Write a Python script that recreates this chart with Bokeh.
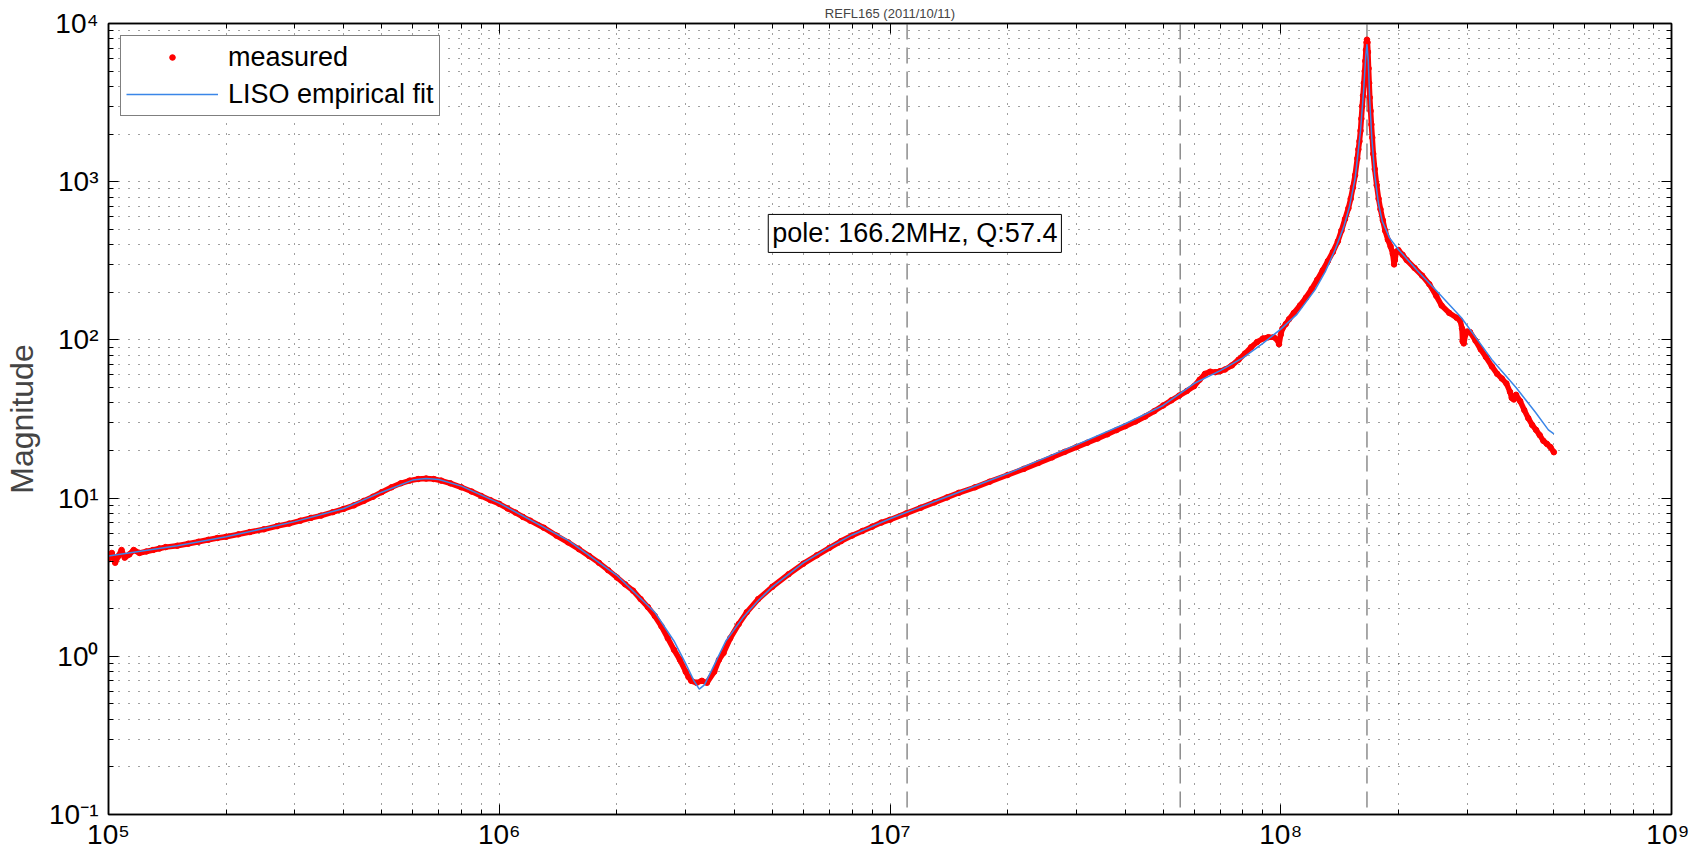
from bokeh.plotting import figure
from bokeh.models import (LogAxis, Span, Label, Legend, LegendItem,
                          CustomJSTickFormatter, FixedTicker)
from bokeh.embed import file_html
from bokeh.resources import INLINE

# ---------------- data ----------------
title_text = "REFL165 (2011/10/11)"

meas_freq_MHz = [
    0.100, 0.102, 0.104, 0.106, 0.108, 0.110, 0.113, 0.116, 0.120, 0.125,
    0.130, 0.135, 0.140, 0.150, 0.160, 0.170, 0.180, 0.190, 0.200, 0.215,
    0.230, 0.250, 0.270, 0.290, 0.310, 0.330, 0.350, 0.375, 0.400, 0.425,
    0.450, 0.475, 0.500, 0.530, 0.560, 0.590, 0.620, 0.650, 0.680, 0.710,
    0.750, 0.800, 0.850, 0.900, 0.950, 1.00, 1.05, 1.10, 1.15, 1.20,
    1.30, 1.40, 1.50, 1.60, 1.70, 1.80, 1.90, 2.00, 2.10, 2.20,
    2.30, 2.40, 2.50, 2.60, 2.70, 2.80, 2.90, 3.00, 3.05, 3.10,
    3.20, 3.30, 3.40, 3.55, 3.65, 3.75, 3.90, 4.10, 4.30, 4.60,
    5.00, 5.50, 6.00, 6.50, 7.00, 7.50, 8.00, 8.50, 9.00, 9.50,
    10.0, 11.0, 12.0, 13.0, 14.0, 15.0, 16.5, 18.0, 20.0, 22.0,
    24.0, 26.0, 28.0, 30.0, 32.0, 34.0, 36.0, 38.0, 40.0, 42.5,
    45.0, 47.5, 50.0, 52.5, 55.0, 57.5, 60.0, 62.0, 64.0, 66.0,
    68.0, 70.0, 72.0, 75.0, 78.0, 81.0, 84.0, 87.0, 90.0, 93.0,
    96.0, 98.0, 99.0, 100.0, 101.0, 103.0, 105.0, 108.0, 112.0, 116.0,
    120.0, 124.0, 128.0, 132.0, 136.0, 140.0, 143.0, 146.0, 149.0, 151.0,
    153.0, 155.0, 157.0, 158.0, 159.0, 160.0, 160.8, 161.6, 162.4, 163.2,
    164.0, 164.6, 165.2, 165.8, 166.2, 166.7, 167.2, 167.8, 168.4, 169.0,
    169.8, 170.6, 171.5, 172.5, 174.0, 176.0, 178.0, 180.0, 182.5, 185.0,
    188.0, 191.0, 193.5, 195.0, 196.0, 197.5, 200.0, 205.0, 210.0, 220.0,
    230.0, 240.0, 250.0, 258.0, 270.0, 282.0, 288.0, 291.0, 292.0, 294.0,
    297.0, 300.0, 305.0, 315.0, 325.0, 335.0, 347.0, 358.0, 368.0, 378.0,
    386.0, 390.0, 395.0, 400.0, 410.0, 420.0, 430.0, 440.0, 450.0, 460.0,
    470.0, 480.0, 490.0, 500.0,
]
meas_mag = [
    4.1, 4.5, 3.9, 4.3, 4.7, 4.2, 4.4, 4.7, 4.5, 4.6,
    4.7, 4.8, 4.9, 5.0, 5.15, 5.3, 5.45, 5.6, 5.7, 5.9,
    6.1, 6.35, 6.65, 6.9, 7.2, 7.5, 7.75, 8.15, 8.55, 9.0,
    9.6, 10.2, 10.9, 11.7, 12.4, 12.9, 13.2, 13.3, 13.2, 12.9,
    12.4, 11.7, 11.0, 10.3, 9.7, 9.2, 8.6, 8.1, 7.6, 7.2,
    6.5, 5.8, 5.25, 4.75, 4.3, 3.9, 3.5, 3.15, 2.85, 2.6,
    2.3, 2.05, 1.8, 1.55, 1.3, 1.1, 0.95, 0.80, 0.74, 0.70,
    0.68, 0.70, 0.68, 0.80, 0.95, 1.05, 1.30, 1.60, 1.90, 2.30,
    2.75, 3.30, 3.85, 4.35, 4.85, 5.35, 5.8, 6.2, 6.6, 7.0,
    7.3, 8.0, 8.7, 9.4, 10.1, 10.8, 11.7, 12.7, 14.0, 15.3,
    16.7, 18.1, 19.6, 21.0, 22.4, 23.8, 25.3, 26.9, 28.5, 30.5,
    32.8, 35.5, 38.5, 41.5, 44.5, 47.5, 51.0, 56.0, 61.0, 63.0,
    62.5, 63.5, 65.0, 69.0, 75.0, 82.0, 90.0, 97.0, 102.0, 104.0,
    104.0, 100.0, 94.0, 108.0, 118.0, 126.0, 135.0, 148.0, 165.0, 185.0,
    210.0, 240.0, 275.0, 315.0, 360.0, 420.0, 490.0, 580.0, 680.0, 780.0,
    920.0, 1100.0, 1400.0, 1600.0, 1800.0, 2100.0, 2500.0, 3000.0, 3500.0, 4200.0,
    5000.0, 5800.0, 6800.0, 7600.0, 7900.0, 7600.0, 6600.0, 5200.0, 4200.0, 3400.0,
    2800.0, 2300.0, 1900.0, 1500.0, 1200.0, 950.0, 780.0, 670.0, 570.0, 490.0,
    430.0, 390.0, 350.0, 300.0, 320.0, 360.0, 370.0, 345.0, 320.0, 285.0,
    255.0, 225.0, 190.0, 165.0, 148.0, 138.0, 132.0, 118.0, 98.0, 95.0,
    108.0, 113.0, 112.0, 99.0, 87.0, 78.0, 68.0, 61.0, 57.0, 53.0,
    47.0, 43.0, 42.0, 45.0, 41.0, 36.0, 32.0, 29.0, 27.0, 25.0,
    23.0, 22.0, 21.0, 19.5,
]

fit_freq_MHz = [
    0.100, 0.150, 0.200, 0.300, 0.400, 0.500, 0.600, 0.650, 0.700, 0.800,
    1.00, 1.50, 2.00, 2.50, 2.80, 3.00, 3.15, 3.25, 3.35, 3.50,
    3.80, 4.20, 4.60, 5.00, 6.00, 7.00, 8.00, 10.0, 15.0, 20.0,
    30.0, 40.0, 50.0, 60.0, 70.0, 80.0, 90.0, 100.0, 110.0, 122.5,
    130.0, 137.8, 145.0, 150.0, 155.0, 160.0, 163.0, 165.0, 166.2, 167.5,
    169.0, 171.0, 174.0, 178.0, 182.0, 190.0, 200.0, 225.0, 250.0, 290.0,
    320.0, 347.0, 400.0, 448.0, 484.0, 500.0,
]
fit_mag = [
    4.3, 5.0, 5.7, 7.1, 8.6, 10.9, 13.0, 13.3, 13.1, 11.9,
    9.3, 5.4, 3.25, 1.9, 1.25, 0.90, 0.70, 0.62, 0.66, 0.82,
    1.25, 1.75, 2.25, 2.75, 3.9, 4.9, 5.85, 7.4, 10.9, 14.3,
    21.7, 29.5, 38.5, 53.0, 64.0, 77.0, 95.0, 117.0, 145.0, 208.0,
    270.0, 373.0, 520.0, 700.0, 1050.0, 2100.0, 3800.0, 6200.0, 7400.0, 5800.0,
    3200.0, 1900.0, 1100.0, 720.0, 560.0, 440.0, 373.0, 270.0, 205.0, 138.0,
    99.0, 75.0, 50.0, 35.0, 27.0, 25.5,
]

marker_freq_MHz = [11.06, 55.3, 166.2]   # vertical dashed reference lines
pole_freq_MHz = 166.2
pole_Q = 57.4

x_decades = [5, 6, 7, 8, 9]
y_decades = [-1, 0, 1, 2, 3, 4]

# ---------------- figure ----------------
FONT = "Liberation Sans"
FS = "27px"
TICK_FS = "28px"

meas_x = [f * 1e6 for f in meas_freq_MHz]
fit_x = [f * 1e6 for f in fit_freq_MHz]

x_major = [10.0 ** k for k in x_decades]
y_major = [10.0 ** k for k in y_decades]
x_minor = [m * 10.0 ** k for k in x_decades[:-1] for m in range(2, 10)]
y_minor = [m * 10.0 ** k for k in y_decades[:-1] for m in range(2, 10)]

p = figure(
    x_axis_type="log", y_axis_type="log",
    x_range=(x_major[0], x_major[-1]), y_range=(y_major[0], y_major[-1]),
    frame_width=1563, frame_height=791,
    min_border_left=108, min_border_right=18, min_border_top=16, min_border_bottom=4,
    output_backend="svg", toolbar_location=None,
    background_fill_color="white", border_fill_color="white",
)

p.title.text = title_text
p.title.align = "center"
p.title.text_font = FONT
p.title.text_font_size = "13px"
p.title.text_font_style = "normal"
p.title.standoff = 6
p.title.offset = 0

sup_code = """
const sup = {"-":"\u207b","0":"\u2070","1":"\u00b9","2":"\u00b2","3":"\u00b3",
             "4":"\u2074","5":"\u2075","6":"\u2076","7":"\u2077","8":"\u2078","9":"\u2079"};
const e = Math.round(Math.log10(tick));
return "10" + String(e).split("").map(c => sup[c]).join("");
"""
fmt = CustomJSTickFormatter(code=sup_code)
blank = CustomJSTickFormatter(code="return '';")

xt = FixedTicker(ticks=x_major, minor_ticks=x_minor)
yt = FixedTicker(ticks=y_major, minor_ticks=y_minor)


def style_axis(ax, ticker, formatter):
    ax.ticker = ticker
    ax.formatter = formatter
    ax.axis_line_color = "black"
    ax.axis_line_width = 1.5
    ax.major_tick_line_color = "black"
    ax.minor_tick_line_color = "black"
    ax.major_tick_line_width = 1
    ax.minor_tick_line_width = 1
    ax.major_tick_in = 10
    ax.major_tick_out = 0
    ax.minor_tick_in = 5
    ax.minor_tick_out = 0
    ax.major_label_text_font = FONT
    ax.major_label_text_font_size = TICK_FS
    ax.major_label_text_color = "black"


style_axis(p.xaxis[0], xt, fmt)
style_axis(p.yaxis[0], yt, fmt)
p.xaxis[0].major_label_standoff = 4
p.yaxis[0].major_label_standoff = 10

p.yaxis[0].axis_label = "Magnitude"
p.yaxis[0].axis_label_text_font = FONT
p.yaxis[0].axis_label_text_font_size = "32px"
p.yaxis[0].axis_label_text_font_style = "normal"
p.yaxis[0].axis_label_standoff = 6

top_ax = LogAxis()
style_axis(top_ax, xt, blank)
top_ax.major_label_standoff = 0
top_ax.major_label_text_font_size = "1px"
p.add_layout(top_ax, "above")

right_ax = LogAxis()
style_axis(right_ax, yt, blank)
right_ax.major_label_standoff = 0
right_ax.major_label_text_font_size = "1px"
p.add_layout(right_ax, "right")

p.outline_line_color = "black"
p.outline_line_width = 1.5

for g, t in ((p.xgrid[0], xt), (p.ygrid[0], yt)):
    g.ticker = t
    g.grid_line_color = "black"
    g.grid_line_alpha = 0.75
    g.grid_line_width = 1
    g.grid_line_dash = "1 9"
    g.minor_grid_line_color = "black"
    g.minor_grid_line_alpha = 0.75
    g.minor_grid_line_width = 1
    g.minor_grid_line_dash = "1 9"

for f in marker_freq_MHz:
    p.add_layout(Span(location=f * 1e6, dimension="height", line_color="#8c8c8c",
                      line_width=1.5, line_dash="16 8", level="underlay"))

# dense measured trace: thick red stroke through the samples plus the sample dots
p.line(meas_x, meas_mag, line_color="#ff0000", line_width=5.5)
r_meas = p.scatter(meas_x, meas_mag, marker="circle", size=5.5,
                   fill_color="#ff0000", line_color="#ff0000")
r_fit = p.line(fit_x, fit_mag, line_color="#3a86e8", line_width=1.5)

legend = Legend(
    items=[LegendItem(label="measured", renderers=[r_meas]),
           LegendItem(label="LISO empirical fit", renderers=[r_fit])],
    location="top_left", margin=12, padding=5, spacing=5,
    glyph_width=92, glyph_height=14, label_height=32, label_standoff=10,
    label_text_font=FONT, label_text_font_size=FS, label_text_color="black",
    border_line_color="black", border_line_width=1,
    background_fill_color="white", background_fill_alpha=1.0,
)
p.add_layout(legend)

pole_label = Label(
    x=4.88e6, y=471.0,
    text=f"pole: {pole_freq_MHz:.1f}MHz, Q:{pole_Q:.1f}",
    text_font=FONT, text_font_size=FS, text_color="black",
    text_align="left", text_baseline="middle",
    border_line_color="black", border_line_width=1,
    background_fill_color="white", background_fill_alpha=1.0,
    padding=4,
)
p.add_layout(pole_label)

open("out.html", "w").write(file_html(p, INLINE))
